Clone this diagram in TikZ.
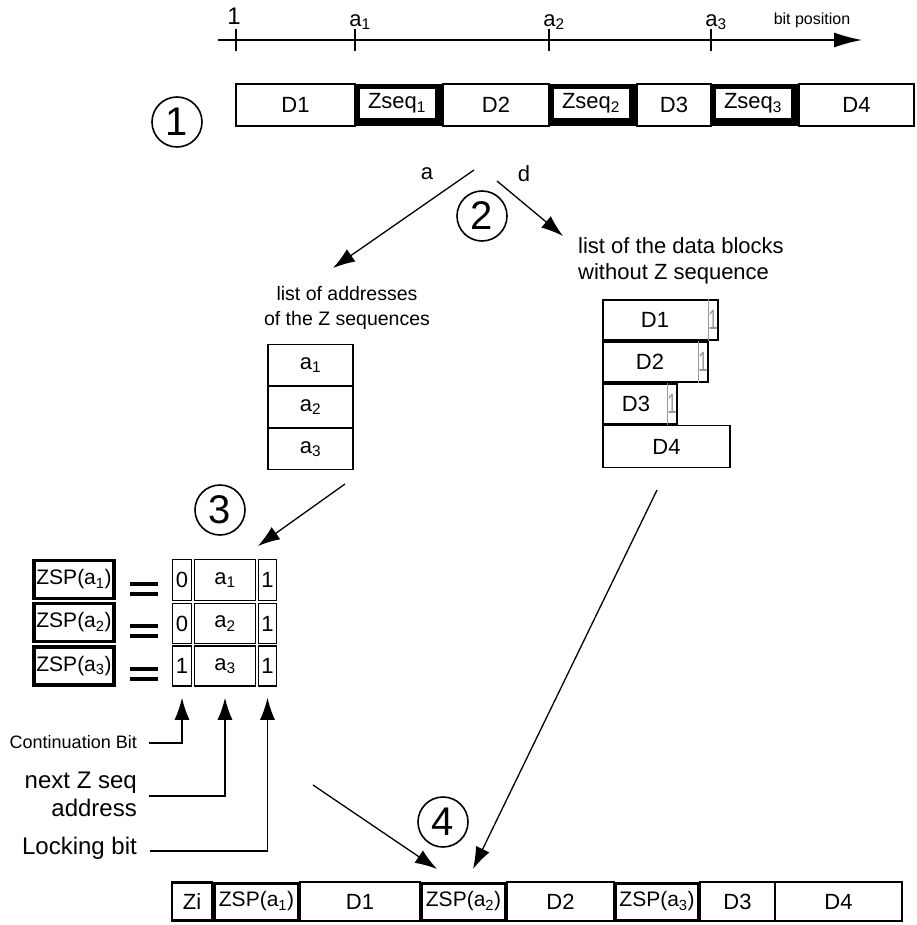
\documentclass[tikz,border=0pt]{standalone}
\usepackage{fontspec}
\setmainfont{Liberation Sans}
\usetikzlibrary{arrows.meta}
\newcommand\fmain{\fontsize{22}{26}\selectfont}
\newcommand\fzsp{\fontsize{21}{25}\selectfont}
\newcommand\flist{\fontsize{19.5}{25}\selectfont}
\newcommand\fbig{\fontsize{24}{28}\selectfont}
\newcommand\fsm{\fontsize{18}{22}\selectfont}
\newcommand\ftiny{\fontsize{16}{19}\selectfont}
\newcommand\fcirc{\fontsize{40}{44}\selectfont}
\newcommand\fgray{\fontsize{28}{30}\selectfont}
\definecolor{bitgray}{gray}{0.6}
\begin{document}
\begin{tikzpicture}[x=1pt,y=-1pt,
 cell/.style={draw, line width=1.5pt, inner sep=0pt, font=\fmain},
 thickcell/.style={draw, line width=3.5pt, inner sep=0pt, font=\fzsp},
 zfill/.style={fill=black, inner sep=0pt},
 zin/.style={fill=white, draw, line width=0.6pt, inner sep=0pt, font=\fmain},
 circ/.style={draw, circle, line width=1.6pt, minimum size=50pt, inner sep=0pt, font=\fcirc},
 arr/.style={line width=1.3pt, -{Latex[length=22pt,width=15pt]}},
 axisarr/.style={line width=1.3pt, -{Latex[length=28pt,width=15pt]}},
 axtick/.style={line width=1.3pt},
 txt/.style={inner sep=0pt, font=\fmain},
 eqbar/.style={line width=4.5pt},
 graybit/.style={inner sep=0pt, font=\fgray, text=bitgray},
]
\useasboundingbox (0,0) rectangle (916,925);

% ---------- axis ----------
\coordinate (ax0) at (218,40);
\coordinate (ax1) at (862,40);
\draw[axisarr] (ax0) -- (ax1);
\coordinate (k0) at (236,40);
\coordinate (k1) at (355,40);
\coordinate (k2) at (549,40);
\coordinate (k3) at (711,40);
\foreach \k in {k0,k1,k2,k3}{\draw[axtick] ([yshift=11pt]\k) -- ([yshift=-11pt]\k);}
\node[txt, font=\fbig] (lk0) at (234,16) {1};
\node[txt] (lk1) at (360,22) {a\textsubscript{1}};
\node[txt] (lk2) at (554,22) {a\textsubscript{2}};
\node[txt] (lk3) at (716,22) {a\textsubscript{3}};
\node[inner sep=0pt, font=\ftiny] (bitpos) at (812,20) {bit position};

% ---------- step 1 ----------
\node[circ] (c1) at (177,122) {1};
\node[cell, minimum width=119pt, minimum height=42pt] (tD1) at (295.5,105) {D1};
\node[zfill, minimum width=88pt, minimum height=42pt] (tZ1) at (399,105) {};
\node[zin, minimum width=76pt, minimum height=30pt] (tZ1i) at (397,103.5) {Zseq\textsubscript{1}};
\node[cell, minimum width=106pt, minimum height=42pt] (tD2) at (496,105) {D2};
\node[zfill, minimum width=88pt, minimum height=42pt] (tZ2) at (593,105) {};
\node[zin, minimum width=76pt, minimum height=30pt] (tZ2i) at (591,103.5) {Zseq\textsubscript{2}};
\node[cell, minimum width=74pt, minimum height=42pt] (tD3) at (674,105) {D3};
\node[zfill, minimum width=88pt, minimum height=42pt] (tZ3) at (755,105) {};
\node[zin, minimum width=76pt, minimum height=30pt] (tZ3i) at (753,103.5) {Zseq\textsubscript{3}};
\node[cell, minimum width=115pt, minimum height=42pt] (tD4) at (856.5,105) {D4};

% ---------- step 2 ----------
\node[txt] (la) at (427,174) {a};
\node[txt] (ld) at (524,174) {d};
\coordinate (aS) at (474,170);
\coordinate (aE) at (333,268);
\draw[arr] (aS) -- (aE);
\coordinate (dS) at (497,181);
\coordinate (dE) at (563,236);
\draw[arr] (dS) -- (dE);
\node[circ] (c2) at (482,216) {2};

\node[txt, font=\flist, align=center] (addrtxt) at (347,308) {list of addresses\\of the Z sequences};
\node[txt, align=left, anchor=west] (datatxt) at (578,261) {list of the data blocks\\without Z sequence};

\node[cell, minimum width=85pt, minimum height=41pt] (ad1) at (310.5,365) {a\textsubscript{1}};
\node[cell, minimum width=85pt, minimum height=41pt] (ad2) at (310.5,407) {a\textsubscript{2}};
\node[cell, minimum width=85pt, minimum height=41pt] (ad3) at (310.5,449) {a\textsubscript{3}};

\node[cell, minimum width=115pt, minimum height=40pt] (dl1) at (660.5,320) {};
\node[cell, minimum width=105pt, minimum height=40pt] (dl2) at (655.5,362) {};
\node[cell, minimum width=74pt, minimum height=40pt] (dl3) at (640,404) {};
\node[cell, minimum width=127pt, minimum height=42pt] (dl4) at (666.5,446.5) {D4};
\node[txt] (dl1t) at (655,320) {D1};
\node[txt] (dl2t) at (650,362) {D2};
\node[txt] (dl3t) at (636,404) {D3};
\draw[bitgray, line width=1.2pt] ([xshift=-10pt]dl1.north east) -- ([xshift=-10pt]dl1.south east);
\draw[bitgray, line width=1.2pt] ([xshift=-10pt]dl2.north east) -- ([xshift=-10pt]dl2.south east);
\draw[bitgray, line width=1.2pt] ([xshift=-10pt]dl3.north east) -- ([xshift=-10pt]dl3.south east);
\node[graybit] (g1) at (713,320) {\scalebox{0.6}[1]{1}};
\node[graybit] (g2) at (703,362) {\scalebox{0.6}[1]{1}};
\node[graybit] (g3) at (672,404) {\scalebox{0.6}[1]{1}};

% ---------- step 3 ----------
\node[circ] (c3) at (220,510) {3};
\coordinate (s3) at (345,484);
\coordinate (e3) at (258,546);
\draw[arr] (s3) -- (e3);

\node[thickcell, minimum width=80pt, minimum height=38pt] (zsp1) at (74,579.5) {ZSP(a\textsubscript{1})};
\node[thickcell, minimum width=80pt, minimum height=38pt] (zsp2) at (74,622.5) {ZSP(a\textsubscript{2})};
\node[thickcell, minimum width=80pt, minimum height=38pt] (zsp3) at (74,666) {ZSP(a\textsubscript{3})};
\draw[eqbar] (130,584) -- (158,584);
\draw[eqbar] (130,594) -- (158,594);
\draw[eqbar] (130,626) -- (158,626);
\draw[eqbar] (130,636) -- (158,636);
\draw[eqbar] (130,669) -- (158,669);
\draw[eqbar] (130,679) -- (158,679);

\node[cell, minimum width=19pt, minimum height=41pt] (b1) at (182,580) {0};
\node[cell, minimum width=61pt, minimum height=41pt] (m1) at (225,580) {a\textsubscript{1}};
\node[cell, minimum width=18pt, minimum height=41pt] (k1c) at (267.5,580) {1};
\node[cell, minimum width=19pt, minimum height=40pt] (b2) at (182,623.5) {0};
\node[cell, minimum width=61pt, minimum height=40pt] (m2) at (225,623.5) {a\textsubscript{2}};
\node[cell, minimum width=18pt, minimum height=40pt] (k2c) at (267.5,623.5) {1};
\node[cell, minimum width=19pt, minimum height=40pt] (b3) at (182,666) {1};
\node[cell, minimum width=61pt, minimum height=40pt] (m3) at (225,666) {a\textsubscript{3}};
\node[cell, minimum width=18pt, minimum height=40pt] (k3c) at (267.5,666) {1};

\node[inner sep=0pt, font=\fsm, anchor=east] (cbl) at (137,742) {Continuation Bit};
\node[inner sep=0pt, font=\fbig, anchor=east, align=right] (nzl) at (137,794) {next Z seq\\address};
\node[inner sep=0pt, font=\fbig, anchor=east] (lbl) at (137,848) {Locking bit};
\coordinate (cbs) at (149,743);
\coordinate (nzs) at (149,796);
\coordinate (lbs) at (150,851);
\draw[arr] (cbs) -| ([yshift=-11pt]b3.south);
\draw[arr] (nzs) -| ([yshift=-11pt]m3.south);
\draw[arr] (lbs) -| ([yshift=-11pt]k3c.south);

% ---------- step 4 ----------
\node[circ] (c4) at (443,822) {4};
\coordinate (s4a) at (313,785);
\coordinate (e4a) at (437,869);
\coordinate (s4b) at (657,490);
\coordinate (e4b) at (473,869);
\draw[arr] (s4a) -- (e4a);
\draw[arr] (s4b) -- (e4b);

\node[cell, line width=2.2pt, minimum width=40pt, minimum height=38pt] (bZi) at (192,901.5) {Zi};
\node[thickcell, line width=3pt, minimum width=84pt, minimum height=37pt] (bS1) at (256.5,901.5) {ZSP(a\textsubscript{1})};
\node[cell, minimum width=120pt, minimum height=39pt] (bD1) at (360,901.5) {D1};
\node[thickcell, line width=3pt, minimum width=84pt, minimum height=37pt] (bS2) at (463.5,901.5) {ZSP(a\textsubscript{2})};
\node[cell, minimum width=107pt, minimum height=39pt] (bD2) at (560.5,901.5) {D2};
\node[thickcell, line width=3pt, minimum width=83pt, minimum height=37pt] (bS3) at (657,901.5) {ZSP(a\textsubscript{3})};
\node[cell, minimum width=75pt, minimum height=39pt] (bD3) at (737.5,901.5) {D3};
\node[cell, minimum width=127pt, minimum height=39pt] (bD4) at (838.5,901.5) {D4};
\end{tikzpicture}
\end{document}
